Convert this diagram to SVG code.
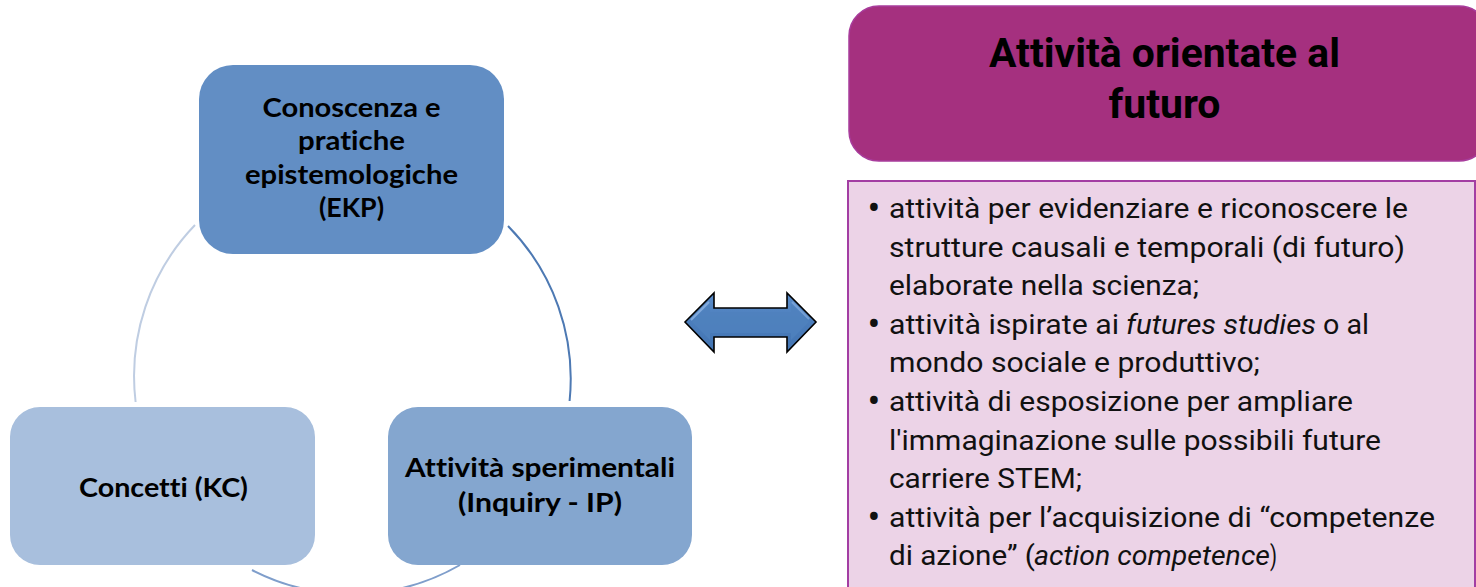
<svg xmlns="http://www.w3.org/2000/svg" width="1476" height="587" viewBox="0 0 1476 587">
  <style>
    .node-label { font-family: Lato, "Liberation Sans", sans-serif; font-weight: bold; font-size: 27px; fill: #000; text-anchor: middle; font-variant-ligatures: none; font-feature-settings: "liga" 0, "dlig" 0; }
    .title { font-family: Roboto, "Liberation Sans", sans-serif; font-weight: bold; font-size: 40px; fill: #000; text-anchor: middle; }
    .item { font-family: Roboto, "Liberation Sans", sans-serif; font-size: 28px; fill: #111; }
    .em { font-style: italic; }
    .dot { font-family: Roboto, "Liberation Sans", sans-serif; font-size: 38px; fill: #111; text-anchor: middle; }
    .arc { fill: none; stroke-width: 2; }
  </style>
  <defs>
    <linearGradient id="arrowFill" x1="0" y1="0" x2="0" y2="1">
      <stop offset="0" stop-color="#5b8dca"/>
      <stop offset="0.5" stop-color="#4b7dbb"/>
      <stop offset="1" stop-color="#4274b2"/>
    </linearGradient>
  </defs>

  <rect width="1476" height="587" fill="#ffffff"/>

  <!-- cycle connectors -->
  <g id="connectors">
    <path class="arc" d="M195,225 A218,218 0 0 0 135.6,402" stroke="#bfcde2" stroke-width="1.6"/>
    <path class="arc" d="M508,226 A218,218 0 0 1 569.6,401" stroke="#4d79b3"/>
    <path class="arc" d="M460,565 A218,218 0 0 1 252,570" stroke="#7f9ecb"/>
  </g>

  <g id="node-ekp">
    <rect x="199" y="65" width="305" height="189" rx="34" fill="#628ec4"/>
    <text class="node-label" x="351.5" y="117" textLength="178" lengthAdjust="spacingAndGlyphs">Conoscenza e</text>
    <text class="node-label" x="351.5" y="150.3" textLength="107" lengthAdjust="spacingAndGlyphs">pratiche</text>
    <text class="node-label" x="351.5" y="183.6" textLength="213" lengthAdjust="spacingAndGlyphs">epistemologiche</text>
    <text class="node-label" x="351.5" y="217" textLength="65" lengthAdjust="spacingAndGlyphs">(EKP)</text>
  </g>

  <g id="node-kc">
    <rect x="10" y="407" width="305" height="158" rx="30" fill="#a8bfdd"/>
    <text class="node-label" x="163.5" y="497" textLength="169" lengthAdjust="spacingAndGlyphs">Concetti (KC)</text>
  </g>

  <g id="node-ip">
    <rect x="388" y="407" width="304" height="158" rx="30" fill="#84a6cf"/>
    <text class="node-label" x="540" y="477" textLength="270" lengthAdjust="spacingAndGlyphs">Attività sperimentali</text>
    <text class="node-label" x="540" y="512" textLength="164" lengthAdjust="spacingAndGlyphs">(Inquiry - IP)</text>
  </g>

  <!-- double-headed link between the cycle and the list -->
  <g id="double-arrow">
    <polygon points="685,322 714,293 714,308 787,308 787,293 816,322 787,352 787,337 714,337 714,352"
             fill="url(#arrowFill)" stroke="#000" stroke-width="1.6" stroke-linejoin="miter"/>
    <polygon points="692,322 710,304 710,312 791,312 791,304 809,322 791,340 791,333 710,333 710,340"
             fill="#4f81bd" opacity="0.85"/>
    <path d="M691,320 L709,302" stroke="#8fb4e3" stroke-width="2" fill="none" opacity="0.8"/>
    <path d="M792,302 L809,319" stroke="#8fb4e3" stroke-width="2" fill="none" opacity="0.6"/>
  </g>

  <g id="title-box">
    <rect x="849" y="6" width="640" height="155" rx="30" fill="#a5307f" stroke="#a83c9c" stroke-width="1.5"/>
    <text class="title" x="1164.5" y="66.7" textLength="351" lengthAdjust="spacingAndGlyphs">Attività orientate al</text>
    <text class="title" x="1164.5" y="117.7" textLength="112" lengthAdjust="spacingAndGlyphs">futuro</text>
  </g>

  <g id="list-box">
    <rect x="848" y="181" width="627" height="420" fill="#ecd3e7" stroke="#a33ea3" stroke-width="2"/>
    <text class="dot" x="874" y="221">•</text>
    <text class="item" x="889" y="218" textLength="519" lengthAdjust="spacingAndGlyphs">attività per evidenziare e riconoscere le</text>
    <text class="item" x="889" y="256.6" textLength="516" lengthAdjust="spacingAndGlyphs">strutture causali e temporali (di futuro)</text>
    <text class="item" x="889" y="295.2" textLength="310" lengthAdjust="spacingAndGlyphs">elaborate nella scienza;</text>

    <text class="dot" x="874" y="336.8">•</text>
    <text class="item" x="889" y="333.8" textLength="230" lengthAdjust="spacingAndGlyphs">attività ispirate ai</text>
    <text class="item em" x="1126" y="333.8" textLength="190" lengthAdjust="spacingAndGlyphs">futures studies</text>
    <text class="item" x="1323" y="333.8" textLength="46" lengthAdjust="spacingAndGlyphs">o al</text>
    <text class="item" x="889" y="372.4" textLength="371" lengthAdjust="spacingAndGlyphs">mondo sociale e produttivo;</text>

    <text class="dot" x="874" y="414">•</text>
    <text class="item" x="889" y="411" textLength="464" lengthAdjust="spacingAndGlyphs">attività di esposizione per ampliare</text>
    <text class="item" x="889" y="449.6" textLength="492" lengthAdjust="spacingAndGlyphs">l'immaginazione sulle possibili future</text>
    <text class="item" x="889" y="488.2" textLength="193" lengthAdjust="spacingAndGlyphs">carriere STEM;</text>

    <text class="dot" x="874" y="529.8">•</text>
    <text class="item" x="889" y="526.8" textLength="546" lengthAdjust="spacingAndGlyphs">attività per l’acquisizione di “competenze</text>
    <text class="item" x="889" y="565.4" textLength="146" lengthAdjust="spacingAndGlyphs">di azione” (</text>
    <text class="item em" x="1034" y="565.4" textLength="236" lengthAdjust="spacingAndGlyphs">action competence</text>
    <text class="item" x="1270" y="565.4" textLength="7" lengthAdjust="spacingAndGlyphs">)</text>
  </g>
</svg>
